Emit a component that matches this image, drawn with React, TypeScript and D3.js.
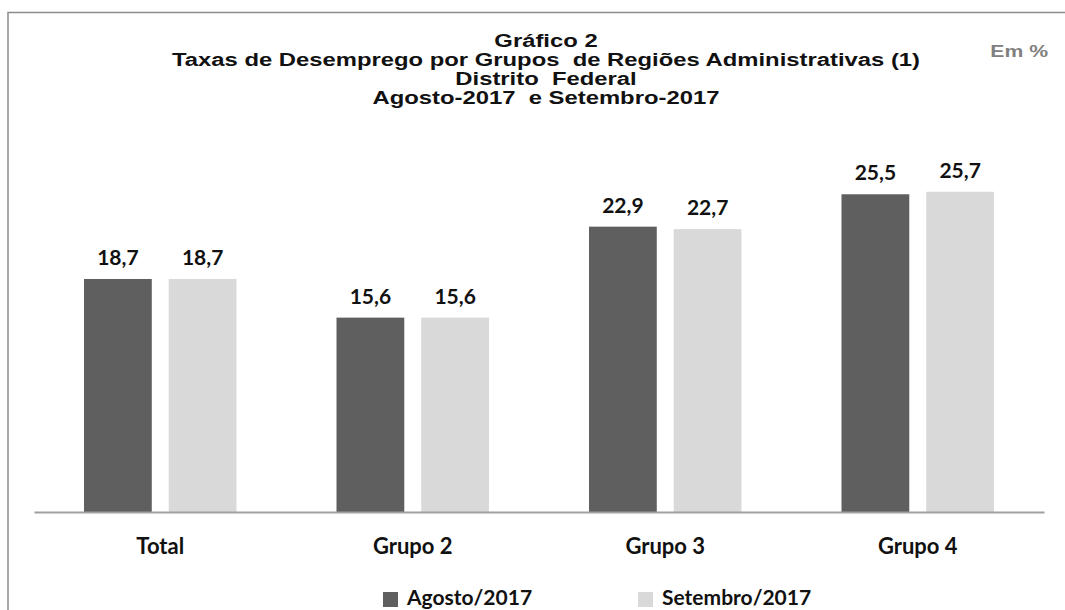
import { useEffect, useRef } from 'react';
import * as d3 from 'd3';

const categories = ['Total', 'Grupo 2', 'Grupo 3', 'Grupo 4'];
const seriesNames = ['Agosto/2017', 'Setembro/2017'];
const agosto = [18.7, 15.6, 22.9, 25.5];
const setembro = [18.7, 15.6, 22.7, 25.7];
const titleLines = [
  'Gráfico 2',
  'Taxas de Desemprego por Grupos  de Regiões Administrativas (1)',
  'Distrito  Federal',
  'Agosto-2017  e Setembro-2017',
];
const unitLabel = 'Em %';

const colors = ['#5f5f5f', '#d9d9d9'];

export default function App() {
  const svgRef = useRef<SVGSVGElement>(null);

  const width = 1065,
    height = 610,
    marginLeft = 34,
    marginRight = 21,
    baseline = 512;

  useEffect(() => {
    const svg = d3.select(svgRef.current);
    svg.selectAll('*').remove();

    // frame
    svg
      .append('path')
      .attr('d', `M8,${height} L8,12.5 L${width},12.5`)
      .attr('fill', 'none')
      .attr('stroke', '#8c8c8c')
      .attr('stroke-width', 1.5);

    // title: the source image is stretched sideways, so glyphs get widened too
    const titleY = [47, 66, 85, 104];
    const titleCenter = 546;
    const titles = svg
      .selectAll('text.title')
      .data(titleLines)
      .join('text')
      .attr('class', 'title')
      .attr('y', (_, i) => titleY[i])
      .style('font-family', '"Liberation Sans", Arial, sans-serif')
      .style('font-weight', 'bold')
      .style('font-size', '18px')
      .style('white-space', 'pre')
      .attr('fill', '#111')
      .text((d) => d);

    const natural = titles.nodes().map((n) => (n as SVGTextElement).getComputedTextLength());
    const stretch = natural[1] > 0 ? 748 / natural[1] : 1.3;
    titles.each(function (_, i) {
      const w = natural[i] * stretch;
      d3.select(this)
        .attr('x', titleCenter - w / 2)
        .attr('textLength', w)
        .attr('lengthAdjust', 'spacingAndGlyphs');
    });

    const unit = svg
      .append('text')
      .attr('y', 57)
      .style('font-family', '"Liberation Sans", Arial, sans-serif')
      .style('font-weight', 'bold')
      .style('font-size', '16px')
      .attr('fill', '#808080')
      .text(unitLabel);
    const uw = (unit.node() as SVGTextElement).getComputedTextLength() * stretch;
    unit.attr('x', 1048 - uw).attr('textLength', uw).attr('lengthAdjust', 'spacingAndGlyphs');

    const x0 = d3
      .scaleBand()
      .domain(categories)
      .range([marginLeft, width - marginRight]);

    const x1 = d3
      .scaleBand()
      .domain(seriesNames)
      .range([50, x0.bandwidth() - 50])
      .paddingInner(0.2);

    const y = d3.scaleLinear().domain([0, 30]).range([baseline, baseline - 30 * 12.46]);

    const rows = categories.flatMap((c, i) => [
      { cat: c, series: seriesNames[0], value: agosto[i], color: colors[0] },
      { cat: c, series: seriesNames[1], value: setembro[i], color: colors[1] },
    ]);

    const bx = (d: any) => (x0(d.cat) as number) + (x1(d.series) as number);

    svg
      .selectAll('rect.bar')
      .data(rows)
      .join('rect')
      .attr('class', 'bar')
      .attr('x', bx)
      .attr('y', (d) => y(d.value))
      .attr('width', x1.bandwidth())
      .attr('height', (d) => y(0) - y(d.value))
      .attr('fill', (d) => d.color);

    const labelFont = 'Lato, "Open Sans", sans-serif';

    svg
      .selectAll('text.val')
      .data(rows)
      .join('text')
      .attr('class', 'val')
      .attr('x', (d) => bx(d) + x1.bandwidth() / 2)
      .attr('y', (d) => y(d.value) - 14)
      .attr('text-anchor', 'middle')
      .style('font-family', labelFont)
      .style('font-weight', 'bold')
      .style('font-size', '21px')
      .attr('fill', '#111')
      .text((d) => d3.format('.1f')(d.value).replace('.', ','));

    // axis baseline
    const gx = svg
      .append('g')
      .attr('transform', `translate(0,${baseline})`)
      .call(d3.axisBottom(x0).tickSize(0).tickPadding(26));
    gx.select('.domain').attr('stroke', '#a0a0a0').attr('stroke-width', 2);
    gx.selectAll('text')
      .style('font-family', labelFont)
      .style('font-weight', 'bold')
      .style('font-size', '22px')
      .attr('fill', '#111');

    // legend
    const legendX = [383, 638];
    const lg = svg
      .selectAll('g.legend')
      .data(seriesNames)
      .join('g')
      .attr('class', 'legend')
      .attr('transform', (_, i) => `translate(${legendX[i]},592)`);
    lg.append('rect')
      .attr('width', 15)
      .attr('height', 15)
      .attr('fill', (_, i) => colors[i]);
    lg.append('text')
      .attr('x', 24)
      .attr('y', 13)
      .style('font-family', labelFont)
      .style('font-weight', 'bold')
      .style('font-size', '21px')
      .attr('fill', '#111')
      .text((d) => d);
  }, []);

  return (
    <div style={{ position: 'fixed', left: 0, top: 0, background: '#fff' }}>
      <svg ref={svgRef} width={width} height={height} />
    </div>
  );
}
